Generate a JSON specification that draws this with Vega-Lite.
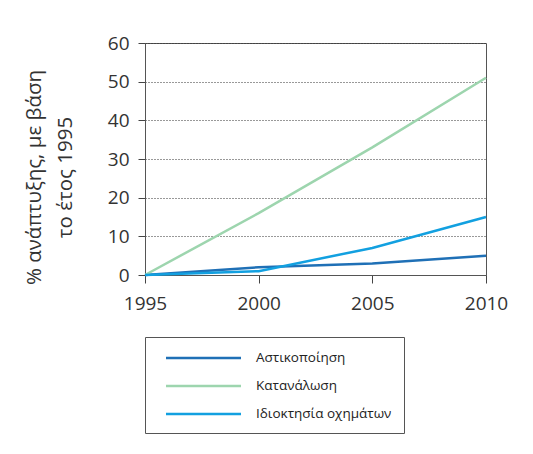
{
  "$schema": "https://vega.github.io/schema/vega-lite/v6.json",
  "width": 341,
  "height": 232,
  "autosize": {"type": "none"},
  "padding": {"left": 145, "top": 43, "right": 47, "bottom": 179},
  "background": "white",
  "config": {
    "font": "Open Sans",
    "view": {"stroke": "#555", "strokeWidth": 1}
  },
  "data": {
    "values": [
      {"year": 1995, "series": "Αστικοποίηση", "value": 0},
      {"year": 2000, "series": "Αστικοποίηση", "value": 2},
      {"year": 2005, "series": "Αστικοποίηση", "value": 3},
      {"year": 2010, "series": "Αστικοποίηση", "value": 5},
      {"year": 1995, "series": "Κατανάλωση", "value": 0},
      {"year": 2000, "series": "Κατανάλωση", "value": 16},
      {"year": 2005, "series": "Κατανάλωση", "value": 33},
      {"year": 2010, "series": "Κατανάλωση", "value": 51},
      {"year": 1995, "series": "Ιδιοκτησία οχημάτων", "value": 0},
      {"year": 2000, "series": "Ιδιοκτησία οχημάτων", "value": 1},
      {"year": 2005, "series": "Ιδιοκτησία οχημάτων", "value": 7},
      {"year": 2010, "series": "Ιδιοκτησία οχημάτων", "value": 15}
    ]
  },
  "mark": {"type": "line", "strokeWidth": 2.5},
  "encoding": {
    "x": {
      "field": "year",
      "type": "quantitative",
      "scale": {"domain": [1995, 2010], "nice": false, "zero": false},
      "axis": {
        "values": [1995, 2000, 2005, 2010],
        "format": "d",
        "title": null,
        "grid": false,
        "domainColor": "#555",
        "tickColor": "#444",
        "tickSize": 8,
        "labelFontSize": 19,
        "labelColor": "#333",
        "labelPadding": 11,
        "labelFlush": false
      }
    },
    "y": {
      "field": "value",
      "type": "quantitative",
      "scale": {"domain": [0, 60], "nice": false},
      "axis": {
        "values": [0, 10, 20, 30, 40, 50, 60],
        "title": ["% ανάπτυξης, με βάση", "το έτος 1995"],
        "titleFontSize": 20.5,
        "titleFontWeight": "normal",
        "titleColor": "#333",
        "titleLineHeight": 31,
        "titleX": -111,
        "titleY": 134,
        "titleAngle": -90,
        "titleAlign": "center",
        "titleBaseline": "middle",
        "grid": true,
        "gridColor": "#333",
        "gridDash": [1, 2],
        "gridWidth": 1,
        "domainColor": "#555",
        "tickColor": "#444",
        "tickSize": 7,
        "labelFontSize": 19,
        "labelColor": "#333",
        "labelPadding": 9
      }
    },
    "color": {
      "field": "series",
      "type": "nominal",
      "scale": {
        "domain": ["Αστικοποίηση", "Κατανάλωση", "Ιδιοκτησία οχημάτων"],
        "range": ["#1f70b6", "#9dd5ae", "#12a0e0"]
      },
      "legend": {
        "title": null,
        "orient": "none",
        "legendX": 0,
        "legendY": 294,
        "direction": "vertical",
        "symbolType": "M0,0H10",
        "symbolSize": 225,
        "symbolStrokeWidth": 2.5,
        "labelFontSize": 13.5,
        "labelColor": "#222",
        "labelOffset": 81,
        "rowPadding": 12,
        "padding": 12,
        "strokeColor": "#555",
        "labelLimit": 300
      }
    }
  }
}
